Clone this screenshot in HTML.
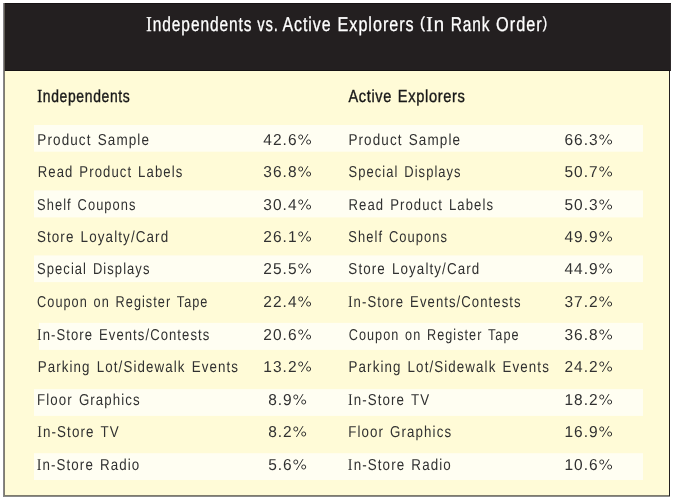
<!DOCTYPE html>
<html><head><meta charset="utf-8"><title>Independents vs. Active Explorers</title>
<style>
html,body{margin:0;padding:0;background:#fff;}
body{width:675px;height:504px;overflow:hidden;position:relative;font-family:"Liberation Sans",sans-serif;text-rendering:geometricPrecision;}
.abs{position:absolute;}
.t{position:absolute;line-height:1;filter:grayscale(1);white-space:nowrap;color:#231f20;transform-origin:0 0;}
.b{color:#333031;font-size:15.8px;letter-spacing:1.3px;word-spacing:1.5px;}
.p{color:#333031;font-size:15.8px;letter-spacing:1.05px;text-align:center;width:80px;transform-origin:40px 0;}
.band{position:absolute;background:#fffef2;}
.ti{color:#fff;letter-spacing:1.2px;-webkit-text-stroke:0.3px #fff;}
.hd{color:#1c1819;letter-spacing:0.8px;-webkit-text-stroke:0.4px #1c1819;}
.pp{font-size:16px;position:relative;top:-2.8px;line-height:0;}
.pc{vertical-align:baseline;fill:none;stroke:currentColor;stroke-width:1.0;margin-left:0.3px;overflow:visible;}
.si{font-family:"Liberation Serif",serif;line-height:0;}
</style></head><body>
<div class="abs" style="left:5px;top:71px;width:664px;height:424px;background:#fffbd7;"></div>
<div class="abs" style="left:5px;top:3px;width:665px;height:68px;background:#231f20;"></div>
<div class="abs" style="left:670px;top:3px;width:1px;height:68px;background:#2e2a2b;"></div>
<div class="abs" style="left:5px;top:3px;width:666px;height:1px;background:#171314;"></div>
<div class="abs" style="left:5px;top:70px;width:665px;height:1px;background:#161213;"></div>
<div class="abs" style="left:3px;top:3px;width:1px;height:494px;background:#878589;"></div>
<div class="abs" style="left:4px;top:3px;width:1px;height:493px;background:#7f7d6d;"></div>
<div class="abs" style="left:4px;top:3px;width:1px;height:68px;background:#5f5b53;"></div>
<div class="abs" style="left:669px;top:71px;width:1px;height:425px;background:#231f20;"></div>
<div class="abs" style="left:4px;top:495px;width:665px;height:1px;background:#7e7c6c;"></div>
<div class="abs" style="left:4px;top:496px;width:666px;height:1px;background:#8a8a8a;"></div>
<div class="band" style="left:34px;top:125px;width:609px;height:26px;"></div>
<div class="band" style="left:34px;top:151px;width:609px;height:1px;opacity:0.7"></div>
<div class="band" style="left:34px;top:191px;width:609px;height:26px;"></div>
<div class="band" style="left:34px;top:190px;width:609px;height:1px;opacity:0.6"></div>
<div class="band" style="left:34px;top:217px;width:609px;height:1px;opacity:0.4"></div>
<div class="band" style="left:34px;top:256px;width:609px;height:26px;"></div>
<div class="band" style="left:34px;top:255px;width:609px;height:1px;opacity:0.6"></div>
<div class="band" style="left:34px;top:282px;width:609px;height:1px;opacity:0.1"></div>
<div class="band" style="left:39px;top:323px;width:604px;height:26px;"></div>
<div class="band" style="left:39px;top:322px;width:604px;height:1px;opacity:0.1"></div>
<div class="band" style="left:39px;top:349px;width:604px;height:1px;opacity:0.9"></div>
<div class="band" style="left:34px;top:390px;width:609px;height:25px;"></div>
<div class="band" style="left:34px;top:389px;width:609px;height:1px;opacity:0.9"></div>
<div class="band" style="left:34px;top:415px;width:609px;height:1px;opacity:0.9"></div>
<div class="band" style="left:34px;top:454px;width:609px;height:26px;"></div>
<div class="band" style="left:34px;top:453px;width:609px;height:1px;opacity:0.8"></div>
<div class="t ti" style="left:146px;top:14.87px;font-size:20px;transform:matrix(0.7746,0,0,1,0.346,0);"><span class="si" style="font-size:21.01px">I</span>ndependents</div>
<div class="t ti" style="left:257px;top:14.87px;font-size:20px;transform:matrix(0.7378,0,0,1,0.173,0);">vs.</div>
<div class="t ti" style="left:282px;top:14.87px;font-size:20px;transform:matrix(0.7983,0,0,1,0.38,0);">Active</div>
<div class="t ti" style="left:338px;top:14.87px;font-size:20px;transform:matrix(0.8087,0,0,1,-0.427,0);">Explorers</div>
<div class="t ti" style="left:420px;top:14.87px;font-size:20px;transform:matrix(0.9261,0,0,1,0.096,0);"><span class="pp">(</span><span class="si" style="font-size:21.01px">I</span>n</div>
<div class="t ti" style="left:451px;top:14.87px;font-size:20px;transform:matrix(0.7728,0,0,1,-0.269,0);">Rank</div>
<div class="t ti" style="left:496px;top:14.87px;font-size:20px;transform:matrix(0.8156,0,0,1,0.077,0);">Order<span class="pp">)</span></div>
<div class="t hd" style="left:37px;top:88.27px;font-size:17.4px;transform:matrix(0.8001,0,0,1,0.346,0);"><span class="si" style="font-size:18.28px">I</span>ndependents</div>
<div class="t hd" style="left:348px;top:88.27px;font-size:17.4px;transform:matrix(0.8348,0,0,1,0.446,0);">Active</div>
<div class="t hd" style="left:398px;top:88.27px;font-size:17.4px;transform:matrix(0.8412,0,0,1,-0.267,0);">Explorers</div>
<div class="t b" style="left:37px;top:132.52px;transform:matrix(0.8531,0,0,1,0.349,0);">Product Sample</div>
<div class="t b" style="left:348px;top:132.52px;transform:matrix(0.853,0,0,1,0.432,0);">Product Sample</div>
<div class="t p" style="left:247px;top:132.52px;transform:matrix(0.98,0,0,1,0.264,0);">42.6<svg class="pc" width="13.6" height="11" viewBox="0 0 13.6 11"><circle cx="2.7" cy="3" r="2.05"/><circle cx="10.8" cy="8" r="2.05"/><path d="M10.1 0.1L3.3 11"/></svg></div>
<div class="t p" style="left:548px;top:132.52px;transform:matrix(0.98,0,0,1,0.314,0);">66.3<svg class="pc" width="13.6" height="11" viewBox="0 0 13.6 11"><circle cx="2.7" cy="3" r="2.05"/><circle cx="10.8" cy="8" r="2.05"/><path d="M10.1 0.1L3.3 11"/></svg></div>
<div class="t b" style="left:38px;top:164.52px;transform:matrix(0.8307,0,0,1,-0.296,0);">Read Product Labels</div>
<div class="t b" style="left:349px;top:164.52px;transform:matrix(0.8183,0,0,1,-0.457,0);">Special Displays</div>
<div class="t p" style="left:247px;top:164.52px;transform:matrix(0.98,0,0,1,0.264,0);">36.8<svg class="pc" width="13.6" height="11" viewBox="0 0 13.6 11"><circle cx="2.7" cy="3" r="2.05"/><circle cx="10.8" cy="8" r="2.05"/><path d="M10.1 0.1L3.3 11"/></svg></div>
<div class="t p" style="left:548px;top:164.52px;transform:matrix(0.98,0,0,1,0.314,0);">50.7<svg class="pc" width="13.6" height="11" viewBox="0 0 13.6 11"><circle cx="2.7" cy="3" r="2.05"/><circle cx="10.8" cy="8" r="2.05"/><path d="M10.1 0.1L3.3 11"/></svg></div>
<div class="t b" style="left:37px;top:198.22px;transform:matrix(0.8147,0,0,1,0.097,0);">Shelf Coupons</div>
<div class="t b" style="left:348px;top:198.22px;transform:matrix(0.8312,0,0,1,0.476,0);">Read Product Labels</div>
<div class="t p" style="left:247px;top:198.22px;transform:matrix(0.98,0,0,1,0.264,0);">30.4<svg class="pc" width="13.6" height="11" viewBox="0 0 13.6 11"><circle cx="2.7" cy="3" r="2.05"/><circle cx="10.8" cy="8" r="2.05"/><path d="M10.1 0.1L3.3 11"/></svg></div>
<div class="t p" style="left:548px;top:198.22px;transform:matrix(0.98,0,0,1,0.314,0);">50.3<svg class="pc" width="13.6" height="11" viewBox="0 0 13.6 11"><circle cx="2.7" cy="3" r="2.05"/><circle cx="10.8" cy="8" r="2.05"/><path d="M10.1 0.1L3.3 11"/></svg></div>
<div class="t b" style="left:37px;top:229.92px;transform:matrix(0.8497,0,0,1,-0.093,0);">Store Loyalty/Card</div>
<div class="t b" style="left:348px;top:229.92px;transform:matrix(0.8174,0,0,1,0.313,0);">Shelf Coupons</div>
<div class="t p" style="left:247px;top:229.92px;transform:matrix(0.98,0,0,1,0.264,0);">26.1<svg class="pc" width="13.6" height="11" viewBox="0 0 13.6 11"><circle cx="2.7" cy="3" r="2.05"/><circle cx="10.8" cy="8" r="2.05"/><path d="M10.1 0.1L3.3 11"/></svg></div>
<div class="t p" style="left:548px;top:229.92px;transform:matrix(0.98,0,0,1,0.314,0);">49.9<svg class="pc" width="13.6" height="11" viewBox="0 0 13.6 11"><circle cx="2.7" cy="3" r="2.05"/><circle cx="10.8" cy="8" r="2.05"/><path d="M10.1 0.1L3.3 11"/></svg></div>
<div class="t b" style="left:37px;top:261.62px;transform:matrix(0.8204,0,0,1,0.08,0);">Special Displays</div>
<div class="t b" style="left:348px;top:261.62px;transform:matrix(0.8478,0,0,1,0.35,0);">Store Loyalty/Card</div>
<div class="t p" style="left:247px;top:261.62px;transform:matrix(0.98,0,0,1,0.264,0);">25.5<svg class="pc" width="13.6" height="11" viewBox="0 0 13.6 11"><circle cx="2.7" cy="3" r="2.05"/><circle cx="10.8" cy="8" r="2.05"/><path d="M10.1 0.1L3.3 11"/></svg></div>
<div class="t p" style="left:548px;top:261.62px;transform:matrix(0.98,0,0,1,0.314,0);">44.9<svg class="pc" width="13.6" height="11" viewBox="0 0 13.6 11"><circle cx="2.7" cy="3" r="2.05"/><circle cx="10.8" cy="8" r="2.05"/><path d="M10.1 0.1L3.3 11"/></svg></div>
<div class="t b" style="left:37px;top:295.12px;transform:matrix(0.8034,0,0,1,0.104,0);">Coupon on Register Tape</div>
<div class="t b" style="left:348px;top:295.12px;transform:matrix(0.8291,0,0,1,-0.038,0);"><span class="si" style="font-size:16.6px">I</span>n-Store Events/Contests</div>
<div class="t p" style="left:247px;top:295.12px;transform:matrix(0.98,0,0,1,0.264,0);">22.4<svg class="pc" width="13.6" height="11" viewBox="0 0 13.6 11"><circle cx="2.7" cy="3" r="2.05"/><circle cx="10.8" cy="8" r="2.05"/><path d="M10.1 0.1L3.3 11"/></svg></div>
<div class="t p" style="left:548px;top:295.12px;transform:matrix(0.98,0,0,1,0.314,0);">37.2<svg class="pc" width="13.6" height="11" viewBox="0 0 13.6 11"><circle cx="2.7" cy="3" r="2.05"/><circle cx="10.8" cy="8" r="2.05"/><path d="M10.1 0.1L3.3 11"/></svg></div>
<div class="t b" style="left:37px;top:328.22px;transform:matrix(0.8275,0,0,1,0.008,0);"><span class="si" style="font-size:16.6px">I</span>n-Store Events/Contests</div>
<div class="t b" style="left:349px;top:328.22px;transform:matrix(0.8009,0,0,1,-0.249,0);">Coupon on Register Tape</div>
<div class="t p" style="left:247px;top:328.22px;transform:matrix(0.98,0,0,1,0.264,0);">20.6<svg class="pc" width="13.6" height="11" viewBox="0 0 13.6 11"><circle cx="2.7" cy="3" r="2.05"/><circle cx="10.8" cy="8" r="2.05"/><path d="M10.1 0.1L3.3 11"/></svg></div>
<div class="t p" style="left:548px;top:328.22px;transform:matrix(0.98,0,0,1,0.314,0);">36.8<svg class="pc" width="13.6" height="11" viewBox="0 0 13.6 11"><circle cx="2.7" cy="3" r="2.05"/><circle cx="10.8" cy="8" r="2.05"/><path d="M10.1 0.1L3.3 11"/></svg></div>
<div class="t b" style="left:38px;top:359.52px;transform:matrix(0.8452,0,0,1,-0.318,0);">Parking Lot/Sidewalk Events</div>
<div class="t b" style="left:349px;top:359.52px;transform:matrix(0.8449,0,0,1,-0.414,0);">Parking Lot/Sidewalk Events</div>
<div class="t p" style="left:247px;top:359.52px;transform:matrix(0.98,0,0,1,0.264,0);">13.2<svg class="pc" width="13.6" height="11" viewBox="0 0 13.6 11"><circle cx="2.7" cy="3" r="2.05"/><circle cx="10.8" cy="8" r="2.05"/><path d="M10.1 0.1L3.3 11"/></svg></div>
<div class="t p" style="left:548px;top:359.52px;transform:matrix(0.98,0,0,1,0.314,0);">24.2<svg class="pc" width="13.6" height="11" viewBox="0 0 13.6 11"><circle cx="2.7" cy="3" r="2.05"/><circle cx="10.8" cy="8" r="2.05"/><path d="M10.1 0.1L3.3 11"/></svg></div>
<div class="t b" style="left:37px;top:392.62px;transform:matrix(0.8406,0,0,1,0.118,0);">Floor Graphics</div>
<div class="t b" style="left:348px;top:392.62px;transform:matrix(0.8441,0,0,1,-0.094,0);"><span class="si" style="font-size:16.6px">I</span>n-Store TV</div>
<div class="t p" style="left:247px;top:392.62px;transform:matrix(0.98,0,0,1,0.264,0);">8.9<svg class="pc" width="13.6" height="11" viewBox="0 0 13.6 11"><circle cx="2.7" cy="3" r="2.05"/><circle cx="10.8" cy="8" r="2.05"/><path d="M10.1 0.1L3.3 11"/></svg></div>
<div class="t p" style="left:548px;top:392.62px;transform:matrix(0.98,0,0,1,0.314,0);">18.2<svg class="pc" width="13.6" height="11" viewBox="0 0 13.6 11"><circle cx="2.7" cy="3" r="2.05"/><circle cx="10.8" cy="8" r="2.05"/><path d="M10.1 0.1L3.3 11"/></svg></div>
<div class="t b" style="left:37px;top:425.42px;transform:matrix(0.8479,0,0,1,0.139,0);"><span class="si" style="font-size:16.6px">I</span>n-Store TV</div>
<div class="t b" style="left:348px;top:425.42px;transform:matrix(0.843,0,0,1,0.224,0);">Floor Graphics</div>
<div class="t p" style="left:247px;top:425.42px;transform:matrix(0.98,0,0,1,0.264,0);">8.2<svg class="pc" width="13.6" height="11" viewBox="0 0 13.6 11"><circle cx="2.7" cy="3" r="2.05"/><circle cx="10.8" cy="8" r="2.05"/><path d="M10.1 0.1L3.3 11"/></svg></div>
<div class="t p" style="left:548px;top:425.42px;transform:matrix(0.98,0,0,1,0.314,0);">16.9<svg class="pc" width="13.6" height="11" viewBox="0 0 13.6 11"><circle cx="2.7" cy="3" r="2.05"/><circle cx="10.8" cy="8" r="2.05"/><path d="M10.1 0.1L3.3 11"/></svg></div>
<div class="t b" style="left:37px;top:457.72px;transform:matrix(0.8445,0,0,1,-0.288,0);"><span class="si" style="font-size:16.6px">I</span>n-Store Radio</div>
<div class="t b" style="left:348px;top:457.72px;transform:matrix(0.8479,0,0,1,-0.151,0);"><span class="si" style="font-size:16.6px">I</span>n-Store Radio</div>
<div class="t p" style="left:247px;top:457.72px;transform:matrix(0.98,0,0,1,0.264,0);">5.6<svg class="pc" width="13.6" height="11" viewBox="0 0 13.6 11"><circle cx="2.7" cy="3" r="2.05"/><circle cx="10.8" cy="8" r="2.05"/><path d="M10.1 0.1L3.3 11"/></svg></div>
<div class="t p" style="left:548px;top:457.72px;transform:matrix(0.98,0,0,1,0.314,0);">10.6<svg class="pc" width="13.6" height="11" viewBox="0 0 13.6 11"><circle cx="2.7" cy="3" r="2.05"/><circle cx="10.8" cy="8" r="2.05"/><path d="M10.1 0.1L3.3 11"/></svg></div>
</body></html>
